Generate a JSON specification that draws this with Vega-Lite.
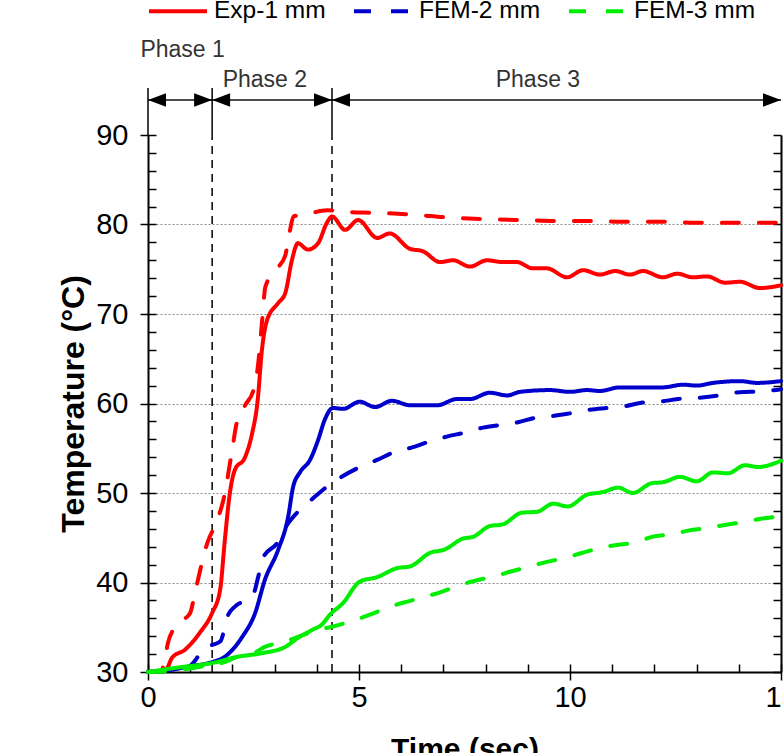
{
  "$schema": "https://vega.github.io/schema/vega-lite/v6.json",
  "width": 633,
  "height": 537,
  "autosize": {"type": "none"},
  "padding": {"left": 148, "top": 135, "right": 2, "bottom": 81},
  "background": "white",
  "config": {
    "view": {"stroke": null},
    "font": "Liberation Sans",
    "axis": {"labelFlush": false, "labelOverlap": false, "tickColor": "black", "domainColor": "black", "labelColor": "black", "titleColor": "black", "tickWidth": 1.5, "grid": false, "labelFont": "Liberation Sans", "titleFont": "Liberation Sans"}
  },
  "datasets": {
    "curves": [
      {"series": "Exp-1 mm", "time": 0, "temp": 30},
      {"series": "Exp-1 mm", "time": 0.3, "temp": 30.0},
      {"series": "Exp-1 mm", "time": 0.45, "temp": 30.4},
      {"series": "Exp-1 mm", "time": 0.57, "temp": 31.6},
      {"series": "Exp-1 mm", "time": 0.88, "temp": 32.5},
      {"series": "Exp-1 mm", "time": 1.23, "temp": 34.4},
      {"series": "Exp-1 mm", "time": 1.52, "temp": 36.6},
      {"series": "Exp-1 mm", "time": 1.71, "temp": 39.2},
      {"series": "Exp-1 mm", "time": 1.82, "temp": 44.7},
      {"series": "Exp-1 mm", "time": 1.94, "temp": 50.0},
      {"series": "Exp-1 mm", "time": 2.06, "temp": 52.6},
      {"series": "Exp-1 mm", "time": 2.3, "temp": 54.0},
      {"series": "Exp-1 mm", "time": 2.46, "temp": 56.5},
      {"series": "Exp-1 mm", "time": 2.6, "temp": 60.4},
      {"series": "Exp-1 mm", "time": 2.7, "temp": 66.0},
      {"series": "Exp-1 mm", "time": 2.82, "temp": 69.3},
      {"series": "Exp-1 mm", "time": 3.08, "temp": 71.2},
      {"series": "Exp-1 mm", "time": 3.25, "temp": 72.3},
      {"series": "Exp-1 mm", "time": 3.41, "temp": 76.0},
      {"series": "Exp-1 mm", "time": 3.55, "temp": 77.9},
      {"series": "Exp-1 mm", "time": 3.79, "temp": 77.2},
      {"series": "Exp-1 mm", "time": 4.03, "temp": 77.9},
      {"series": "Exp-1 mm", "time": 4.24, "temp": 80.2},
      {"series": "Exp-1 mm", "time": 4.36, "temp": 80.9},
      {"series": "Exp-1 mm", "time": 4.67, "temp": 79.4},
      {"series": "Exp-1 mm", "time": 4.98, "temp": 80.5},
      {"series": "Exp-1 mm", "time": 5.43, "temp": 78.5},
      {"series": "Exp-1 mm", "time": 5.73, "temp": 79.0},
      {"series": "Exp-1 mm", "time": 6.2, "temp": 77.3},
      {"series": "Exp-1 mm", "time": 6.52, "temp": 77.0},
      {"series": "Exp-1 mm", "time": 6.92, "temp": 75.8},
      {"series": "Exp-1 mm", "time": 7.23, "temp": 76.0},
      {"series": "Exp-1 mm", "time": 7.63, "temp": 75.3},
      {"series": "Exp-1 mm", "time": 8.03, "temp": 76.0},
      {"series": "Exp-1 mm", "time": 8.41, "temp": 75.8},
      {"series": "Exp-1 mm", "time": 8.74, "temp": 75.8},
      {"series": "Exp-1 mm", "time": 9.12, "temp": 75.1},
      {"series": "Exp-1 mm", "time": 9.45, "temp": 75.1},
      {"series": "Exp-1 mm", "time": 9.93, "temp": 74.1},
      {"series": "Exp-1 mm", "time": 10.31, "temp": 74.9},
      {"series": "Exp-1 mm", "time": 10.71, "temp": 74.4},
      {"series": "Exp-1 mm", "time": 11.07, "temp": 74.8},
      {"series": "Exp-1 mm", "time": 11.42, "temp": 74.4},
      {"series": "Exp-1 mm", "time": 11.73, "temp": 74.8},
      {"series": "Exp-1 mm", "time": 12.2, "temp": 74.1},
      {"series": "Exp-1 mm", "time": 12.54, "temp": 74.5},
      {"series": "Exp-1 mm", "time": 12.91, "temp": 74.1},
      {"series": "Exp-1 mm", "time": 13.25, "temp": 74.2},
      {"series": "Exp-1 mm", "time": 13.67, "temp": 73.5},
      {"series": "Exp-1 mm", "time": 14.03, "temp": 73.6},
      {"series": "Exp-1 mm", "time": 14.5, "temp": 72.9},
      {"series": "Exp-1 mm", "time": 15, "temp": 73.2},

      {"series": "FEM-1 mm", "time": 0, "temp": 30},
      {"series": "FEM-1 mm", "time": 0.3, "temp": 30.1},
      {"series": "FEM-1 mm", "time": 0.4, "temp": 31.3},
      {"series": "FEM-1 mm", "time": 0.47, "temp": 33.2},
      {"series": "FEM-1 mm", "time": 0.69, "temp": 35.3},
      {"series": "FEM-1 mm", "time": 1.0, "temp": 36.6},
      {"series": "FEM-1 mm", "time": 1.11, "temp": 38.8},
      {"series": "FEM-1 mm", "time": 1.42, "temp": 44.6},
      {"series": "FEM-1 mm", "time": 1.6, "temp": 46.5},
      {"series": "FEM-1 mm", "time": 1.8, "temp": 49.5},
      {"series": "FEM-1 mm", "time": 2.0, "temp": 55.0},
      {"series": "FEM-1 mm", "time": 2.1, "temp": 57.8},
      {"series": "FEM-1 mm", "time": 2.3, "temp": 59.8},
      {"series": "FEM-1 mm", "time": 2.5, "temp": 61.5},
      {"series": "FEM-1 mm", "time": 2.6, "temp": 64.0},
      {"series": "FEM-1 mm", "time": 2.7, "temp": 69.0},
      {"series": "FEM-1 mm", "time": 2.78, "temp": 73.0},
      {"series": "FEM-1 mm", "time": 3.0, "temp": 74.8},
      {"series": "FEM-1 mm", "time": 3.25, "temp": 76.5},
      {"series": "FEM-1 mm", "time": 3.35, "temp": 79.0},
      {"series": "FEM-1 mm", "time": 3.45, "temp": 80.9},
      {"series": "FEM-1 mm", "time": 3.8, "temp": 81.2},
      {"series": "FEM-1 mm", "time": 4.24, "temp": 81.6},
      {"series": "FEM-1 mm", "time": 4.67, "temp": 81.4},
      {"series": "FEM-1 mm", "time": 5.43, "temp": 81.3},
      {"series": "FEM-1 mm", "time": 6.28, "temp": 81.1},
      {"series": "FEM-1 mm", "time": 7.08, "temp": 80.8},
      {"series": "FEM-1 mm", "time": 7.94, "temp": 80.6},
      {"series": "FEM-1 mm", "time": 8.89, "temp": 80.5},
      {"series": "FEM-1 mm", "time": 9.69, "temp": 80.4},
      {"series": "FEM-1 mm", "time": 10.47, "temp": 80.4},
      {"series": "FEM-1 mm", "time": 11.35, "temp": 80.3},
      {"series": "FEM-1 mm", "time": 12.2, "temp": 80.3},
      {"series": "FEM-1 mm", "time": 13.0, "temp": 80.2},
      {"series": "FEM-1 mm", "time": 13.86, "temp": 80.2},
      {"series": "FEM-1 mm", "time": 15, "temp": 80.2},

      {"series": "Exp-2 mm", "time": 0, "temp": 30},
      {"series": "Exp-2 mm", "time": 0.5, "temp": 30.2},
      {"series": "Exp-2 mm", "time": 0.95, "temp": 30.6},
      {"series": "Exp-2 mm", "time": 1.52, "temp": 31.1},
      {"series": "Exp-2 mm", "time": 1.82, "temp": 31.7},
      {"series": "Exp-2 mm", "time": 2.23, "temp": 33.9},
      {"series": "Exp-2 mm", "time": 2.54, "temp": 36.6},
      {"series": "Exp-2 mm", "time": 2.77, "temp": 40.3},
      {"series": "Exp-2 mm", "time": 3.08, "temp": 43.6},
      {"series": "Exp-2 mm", "time": 3.32, "temp": 47.3},
      {"series": "Exp-2 mm", "time": 3.44, "temp": 50.7},
      {"series": "Exp-2 mm", "time": 3.6, "temp": 52.3},
      {"series": "Exp-2 mm", "time": 3.84, "temp": 53.7},
      {"series": "Exp-2 mm", "time": 4.03, "temp": 55.9},
      {"series": "Exp-2 mm", "time": 4.19, "temp": 58.2},
      {"series": "Exp-2 mm", "time": 4.38, "temp": 59.5},
      {"series": "Exp-2 mm", "time": 4.62, "temp": 59.4},
      {"series": "Exp-2 mm", "time": 5.02, "temp": 60.2},
      {"series": "Exp-2 mm", "time": 5.38, "temp": 59.6},
      {"series": "Exp-2 mm", "time": 5.78, "temp": 60.3},
      {"series": "Exp-2 mm", "time": 6.21, "temp": 59.8},
      {"series": "Exp-2 mm", "time": 6.85, "temp": 59.8},
      {"series": "Exp-2 mm", "time": 7.32, "temp": 60.5},
      {"series": "Exp-2 mm", "time": 7.63, "temp": 60.5},
      {"series": "Exp-2 mm", "time": 8.1, "temp": 61.2},
      {"series": "Exp-2 mm", "time": 8.51, "temp": 60.9},
      {"series": "Exp-2 mm", "time": 8.82, "temp": 61.3},
      {"series": "Exp-2 mm", "time": 9.53, "temp": 61.5},
      {"series": "Exp-2 mm", "time": 10.0, "temp": 61.3},
      {"series": "Exp-2 mm", "time": 10.4, "temp": 61.5},
      {"series": "Exp-2 mm", "time": 10.71, "temp": 61.4},
      {"series": "Exp-2 mm", "time": 11.18, "temp": 61.8},
      {"series": "Exp-2 mm", "time": 11.82, "temp": 61.8},
      {"series": "Exp-2 mm", "time": 12.2, "temp": 61.8},
      {"series": "Exp-2 mm", "time": 12.68, "temp": 62.1},
      {"series": "Exp-2 mm", "time": 13.0, "temp": 62.0},
      {"series": "Exp-2 mm", "time": 13.39, "temp": 62.3},
      {"series": "Exp-2 mm", "time": 14.03, "temp": 62.5},
      {"series": "Exp-2 mm", "time": 14.43, "temp": 62.3},
      {"series": "Exp-2 mm", "time": 15, "temp": 62.5},

      {"series": "FEM-2 mm", "time": 0, "temp": 30},
      {"series": "FEM-2 mm", "time": 0.6, "temp": 30.3},
      {"series": "FEM-2 mm", "time": 1.0, "temp": 30.7},
      {"series": "FEM-2 mm", "time": 1.15, "temp": 31.5},
      {"series": "FEM-2 mm", "time": 1.3, "temp": 32.6},
      {"series": "FEM-2 mm", "time": 1.71, "temp": 33.4},
      {"series": "FEM-2 mm", "time": 1.9, "temp": 36.4},
      {"series": "FEM-2 mm", "time": 2.06, "temp": 37.3},
      {"series": "FEM-2 mm", "time": 2.3, "temp": 38.0},
      {"series": "FEM-2 mm", "time": 2.49, "temp": 38.6},
      {"series": "FEM-2 mm", "time": 2.61, "temp": 40.6},
      {"series": "FEM-2 mm", "time": 2.73, "temp": 42.8},
      {"series": "FEM-2 mm", "time": 3.06, "temp": 44.4},
      {"series": "FEM-2 mm", "time": 3.29, "temp": 46.4},
      {"series": "FEM-2 mm", "time": 3.55, "temp": 47.9},
      {"series": "FEM-2 mm", "time": 3.91, "temp": 49.4},
      {"series": "FEM-2 mm", "time": 4.24, "temp": 50.7},
      {"series": "FEM-2 mm", "time": 4.62, "temp": 51.9},
      {"series": "FEM-2 mm", "time": 5.02, "temp": 52.9},
      {"series": "FEM-2 mm", "time": 5.43, "temp": 53.7},
      {"series": "FEM-2 mm", "time": 5.8, "temp": 54.5},
      {"series": "FEM-2 mm", "time": 6.26, "temp": 55.1},
      {"series": "FEM-2 mm", "time": 6.64, "temp": 55.7},
      {"series": "FEM-2 mm", "time": 7.08, "temp": 56.3},
      {"series": "FEM-2 mm", "time": 7.46, "temp": 56.7},
      {"series": "FEM-2 mm", "time": 7.94, "temp": 57.3},
      {"series": "FEM-2 mm", "time": 8.34, "temp": 57.6},
      {"series": "FEM-2 mm", "time": 8.77, "temp": 57.9},
      {"series": "FEM-2 mm", "time": 9.17, "temp": 58.4},
      {"series": "FEM-2 mm", "time": 9.6, "temp": 58.6},
      {"series": "FEM-2 mm", "time": 10.0, "temp": 58.9},
      {"series": "FEM-2 mm", "time": 10.47, "temp": 59.3},
      {"series": "FEM-2 mm", "time": 10.88, "temp": 59.5},
      {"series": "FEM-2 mm", "time": 11.3, "temp": 59.7},
      {"series": "FEM-2 mm", "time": 11.73, "temp": 60.1},
      {"series": "FEM-2 mm", "time": 12.13, "temp": 60.2},
      {"series": "FEM-2 mm", "time": 12.56, "temp": 60.5},
      {"series": "FEM-2 mm", "time": 13.0, "temp": 60.6},
      {"series": "FEM-2 mm", "time": 13.39, "temp": 60.8},
      {"series": "FEM-2 mm", "time": 13.86, "temp": 61.2},
      {"series": "FEM-2 mm", "time": 14.27, "temp": 61.3},
      {"series": "FEM-2 mm", "time": 14.67, "temp": 61.4},
      {"series": "FEM-2 mm", "time": 15, "temp": 61.6},

      {"series": "Exp-3 mm", "time": 0, "temp": 30},
      {"series": "Exp-3 mm", "time": 0.71, "temp": 30.5},
      {"series": "Exp-3 mm", "time": 1.52, "temp": 31.0},
      {"series": "Exp-3 mm", "time": 2.13, "temp": 31.7},
      {"series": "Exp-3 mm", "time": 2.7, "temp": 32.1},
      {"series": "Exp-3 mm", "time": 3.25, "temp": 32.8},
      {"series": "Exp-3 mm", "time": 3.55, "temp": 33.8},
      {"series": "Exp-3 mm", "time": 3.89, "temp": 34.7},
      {"series": "Exp-3 mm", "time": 4.12, "temp": 35.3},
      {"series": "Exp-3 mm", "time": 4.31, "temp": 36.4},
      {"series": "Exp-3 mm", "time": 4.62, "temp": 37.7},
      {"series": "Exp-3 mm", "time": 5.02, "temp": 40.1},
      {"series": "Exp-3 mm", "time": 5.43, "temp": 40.6},
      {"series": "Exp-3 mm", "time": 5.9, "temp": 41.6},
      {"series": "Exp-3 mm", "time": 6.21, "temp": 41.8},
      {"series": "Exp-3 mm", "time": 6.68, "temp": 43.3},
      {"series": "Exp-3 mm", "time": 7.04, "temp": 43.7},
      {"series": "Exp-3 mm", "time": 7.46, "temp": 44.9},
      {"series": "Exp-3 mm", "time": 7.7, "temp": 45.1},
      {"series": "Exp-3 mm", "time": 8.1, "temp": 46.3},
      {"series": "Exp-3 mm", "time": 8.41, "temp": 46.5},
      {"series": "Exp-3 mm", "time": 8.86, "temp": 47.8},
      {"series": "Exp-3 mm", "time": 9.22, "temp": 47.9},
      {"series": "Exp-3 mm", "time": 9.6, "temp": 48.8},
      {"series": "Exp-3 mm", "time": 9.95, "temp": 48.5},
      {"series": "Exp-3 mm", "time": 10.4, "temp": 49.8},
      {"series": "Exp-3 mm", "time": 10.78, "temp": 50.1},
      {"series": "Exp-3 mm", "time": 11.14, "temp": 50.6},
      {"series": "Exp-3 mm", "time": 11.49, "temp": 50.0},
      {"series": "Exp-3 mm", "time": 11.94, "temp": 51.1},
      {"series": "Exp-3 mm", "time": 12.2, "temp": 51.2},
      {"series": "Exp-3 mm", "time": 12.61, "temp": 51.8},
      {"series": "Exp-3 mm", "time": 13.0, "temp": 51.3},
      {"series": "Exp-3 mm", "time": 13.39, "temp": 52.3},
      {"series": "Exp-3 mm", "time": 13.74, "temp": 52.2},
      {"series": "Exp-3 mm", "time": 14.15, "temp": 53.1},
      {"series": "Exp-3 mm", "time": 14.45, "temp": 52.9},
      {"series": "Exp-3 mm", "time": 15, "temp": 53.6},

      {"series": "FEM-3 mm", "time": 0, "temp": 30},
      {"series": "FEM-3 mm", "time": 0.5, "temp": 30.1},
      {"series": "FEM-3 mm", "time": 1.0, "temp": 30.4},
      {"series": "FEM-3 mm", "time": 1.5, "temp": 30.8},
      {"series": "FEM-3 mm", "time": 1.82, "temp": 31.1},
      {"series": "FEM-3 mm", "time": 2.06, "temp": 31.6},
      {"series": "FEM-3 mm", "time": 2.54, "temp": 32.2},
      {"series": "FEM-3 mm", "time": 2.77, "temp": 32.8},
      {"series": "FEM-3 mm", "time": 3.25, "temp": 33.4},
      {"series": "FEM-3 mm", "time": 3.65, "temp": 34.1},
      {"series": "FEM-3 mm", "time": 4.03, "temp": 34.7},
      {"series": "FEM-3 mm", "time": 4.31, "temp": 35.0},
      {"series": "FEM-3 mm", "time": 4.9, "temp": 35.8},
      {"series": "FEM-3 mm", "time": 5.26, "temp": 36.4},
      {"series": "FEM-3 mm", "time": 5.73, "temp": 37.3},
      {"series": "FEM-3 mm", "time": 6.09, "temp": 37.8},
      {"series": "FEM-3 mm", "time": 6.56, "temp": 38.4},
      {"series": "FEM-3 mm", "time": 6.92, "temp": 38.9},
      {"series": "FEM-3 mm", "time": 7.39, "temp": 39.7},
      {"series": "FEM-3 mm", "time": 7.75, "temp": 40.2},
      {"series": "FEM-3 mm", "time": 8.22, "temp": 40.7},
      {"series": "FEM-3 mm", "time": 8.58, "temp": 41.2},
      {"series": "FEM-3 mm", "time": 9.05, "temp": 41.8},
      {"series": "FEM-3 mm", "time": 9.45, "temp": 42.3},
      {"series": "FEM-3 mm", "time": 9.93, "temp": 42.8},
      {"series": "FEM-3 mm", "time": 10.28, "temp": 43.3},
      {"series": "FEM-3 mm", "time": 10.76, "temp": 43.9},
      {"series": "FEM-3 mm", "time": 11.11, "temp": 44.2},
      {"series": "FEM-3 mm", "time": 11.59, "temp": 44.5},
      {"series": "FEM-3 mm", "time": 11.94, "temp": 45.1},
      {"series": "FEM-3 mm", "time": 12.44, "temp": 45.4},
      {"series": "FEM-3 mm", "time": 12.8, "temp": 45.8},
      {"series": "FEM-3 mm", "time": 13.27, "temp": 46.1},
      {"series": "FEM-3 mm", "time": 13.63, "temp": 46.4},
      {"series": "FEM-3 mm", "time": 14.15, "temp": 46.8},
      {"series": "FEM-3 mm", "time": 14.5, "temp": 47.1},
      {"series": "FEM-3 mm", "time": 15, "temp": 47.4}
    ],
    "vlines": [{"time": 1.52}, {"time": 4.36}],
    "bounds": [{"time": 0}, {"time": 1.52}, {"time": 4.36}],
    "phases": [
      {"phase": "Phase 1", "start": 0, "end": 1.52, "labelTime": 0.82, "labelTemp": 98.7},
      {"phase": "Phase 2", "start": 1.52, "end": 4.36, "labelTime": 2.77, "labelTemp": 95.4},
      {"phase": "Phase 3", "start": 4.36, "end": 15, "labelTime": 9.24, "labelTemp": 95.4}
    ],
    "heads": [
      {"time": 0, "dir": "left"},
      {"time": 1.52, "dir": "right"},
      {"time": 1.52, "dir": "left"},
      {"time": 4.36, "dir": "right"},
      {"time": 4.36, "dir": "left"},
      {"time": 15, "dir": "right"}
    ]
  },
  "resolve": {"axis": {"x": "independent", "y": "independent"}},
  "layer": [
    {
      "data": {"name": "vlines"},
      "mark": {"type": "rule", "color": "black", "strokeWidth": 1.5, "strokeDash": [8, 6]},
      "encoding": {
        "x": {"field": "time", "type": "quantitative", "scale": {"domain": [0, 15], "nice": false, "zero": false},
          "axis": {"orient": "bottom", "values": [0, 1, 2, 3, 4, 5, 6, 7, 8, 9, 10, 11, 12, 13, 14, 15], "tickSize": -8, "labels": false, "domain": false, "title": null, "grid": false}},
        "y": {"datum": 30, "type": "quantitative", "scale": {"domain": [30, 90], "nice": false, "zero": false},
          "axis": {"orient": "left", "values": [30, 32, 34, 36, 38, 40, 42, 44, 46, 48, 50, 52, 54, 56, 58, 60, 62, 64, 66, 68, 70, 72, 74, 76, 78, 80, 82, 84, 86, 88, 90], "tickSize": -8, "labels": false, "domain": false, "title": null, "grid": false}},
        "y2": {"datum": 90}
      }
    },
    {
      "data": {"name": "phases"},
      "mark": {"type": "rule", "color": "#111", "strokeWidth": 1.5},
      "encoding": {
        "x": {"field": "start", "type": "quantitative", "scale": {"domain": [0, 15], "nice": false, "zero": false}, "axis": null},
        "x2": {"field": "end"},
        "y": {"datum": 93.9, "type": "quantitative", "scale": {"domain": [30, 90], "nice": false, "zero": false},
          "axis": {"orient": "left", "values": [40, 50, 60, 70, 80], "grid": true, "gridDash": [2, 2], "gridColor": "#888", "gridWidth": 1, "ticks": false, "labels": false, "domain": false, "title": null}}
      }
    },
    {
      "data": {"name": "curves"},
      "mark": {"type": "line", "strokeWidth": 4, "strokeCap": "round", "interpolate": "monotone"},
      "encoding": {
        "x": {"field": "time", "type": "quantitative", "scale": {"domain": [0, 15], "nice": false, "zero": false},
          "axis": {"orient": "bottom", "values": [0, 5, 10, 15], "tickSize": 8, "domainWidth": 2, "labelFontSize": 29, "labelPadding": 3, "title": "Time (sec)", "titleFontSize": 30, "titleFontWeight": "bold", "titlePadding": 22}},
        "y": {"field": "temp", "type": "quantitative", "scale": {"domain": [30, 90], "nice": false, "zero": false},
          "axis": {"orient": "left", "values": [30, 40, 50, 60, 70, 80, 90], "tickSize": 8, "domainWidth": 2, "labelFontSize": 29, "labelPadding": 12, "title": "Temperature (°C)", "titleFontSize": 32, "titleFontWeight": "bold", "titlePadding": 5}},
        "color": {"field": "series", "type": "nominal",
          "scale": {"domain": ["Exp-1 mm", "FEM-1 mm", "Exp-2 mm", "FEM-2 mm", "Exp-3 mm", "FEM-3 mm"], "range": ["#ff0000", "#ff0000", "#0000cc", "#0000cc", "#00ee00", "#00ee00"]},
          "legend": {"title": null, "orient": "none", "legendX": -1, "legendY": -155, "direction": "horizontal", "columns": 3, "columnPadding": 20, "values": ["Exp-1 mm", "FEM-2 mm", "FEM-3 mm"], "symbolType": "stroke", "symbolSize": 3364, "symbolStrokeWidth": 4, "labelFontSize": 24.5, "labelFont": "Liberation Sans", "labelColor": "black", "labelLimit": 400, "labelOffset": 5, "padding": 0, "rowPadding": 0}},
        "strokeDash": {"field": "series", "type": "nominal",
          "scale": {"domain": ["Exp-1 mm", "FEM-1 mm", "Exp-2 mm", "FEM-2 mm", "Exp-3 mm", "FEM-3 mm"], "range": [[1, 0], [17, 20], [1, 0], [17, 20], [1, 0], [17, 20]]},
          "legend": {"title": null, "orient": "none", "legendX": -1, "legendY": -155, "direction": "horizontal", "columns": 3, "columnPadding": 20, "values": ["Exp-1 mm", "FEM-2 mm", "FEM-3 mm"], "symbolType": "stroke", "symbolSize": 3364, "symbolStrokeWidth": 4, "labelFontSize": 24.5, "labelFont": "Liberation Sans", "labelColor": "black", "labelLimit": 400, "labelOffset": 5, "padding": 0, "rowPadding": 0}}
      }
    },
    {
      "data": {"name": "bounds"},
      "mark": {"type": "rule", "color": "black", "strokeWidth": 1.5},
      "encoding": {
        "x": {"field": "time", "type": "quantitative", "scale": {"domain": [0, 15], "nice": false, "zero": false}, "axis": null},
        "y": {"datum": 90, "type": "quantitative", "scale": {"domain": [30, 90], "nice": false, "zero": false},
          "axis": {"orient": "right", "values": [30, 32, 34, 36, 38, 40, 42, 44, 46, 48, 50, 52, 54, 56, 58, 60, 62, 64, 66, 68, 70, 72, 74, 76, 78, 80, 82, 84, 86, 88, 90], "tickSize": -8, "labels": false, "domain": true, "domainWidth": 2, "title": null, "grid": false}},
        "y2": {"datum": 95.25}
      }
    },
    {
      "data": {"name": "heads"},
      "mark": {"type": "point", "filled": true, "color": "black", "opacity": 1, "size": 324, "strokeWidth": 0},
      "encoding": {
        "x": {"field": "time", "type": "quantitative", "scale": {"domain": [0, 15], "nice": false, "zero": false}, "axis": null},
        "y": {"datum": 93.9, "type": "quantitative", "scale": {"domain": [30, 90], "nice": false, "zero": false}, "axis": null},
        "shape": {"field": "dir", "type": "nominal", "scale": {"domain": ["left", "right"], "range": ["M0,0L2,-0.75L2,0.75Z", "M0,0L-2,-0.75L-2,0.75Z"]}, "legend": null}
      }
    },
    {
      "data": {"name": "phases"},
      "mark": {"type": "text", "fontSize": 23, "color": "#333", "align": "center", "baseline": "alphabetic", "font": "Liberation Sans"},
      "encoding": {
        "x": {"field": "labelTime", "type": "quantitative", "scale": {"domain": [0, 15], "nice": false, "zero": false}, "axis": null},
        "y": {"field": "labelTemp", "type": "quantitative", "scale": {"domain": [30, 90], "nice": false, "zero": false}, "axis": null},
        "text": {"field": "phase"}
      }
    }
  ]
}
